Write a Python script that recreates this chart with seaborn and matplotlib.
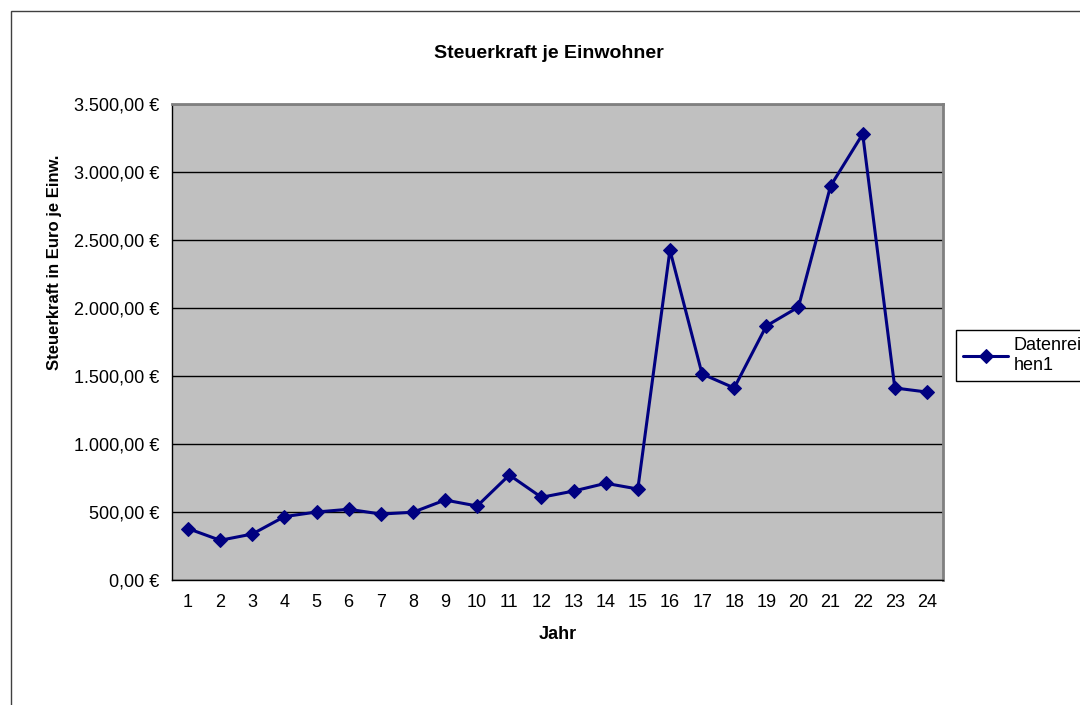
import numpy as np
import pandas as pd
import matplotlib
matplotlib.use('Agg')
import matplotlib.pyplot as plt
from matplotlib.patches import Rectangle
from matplotlib.ticker import FuncFormatter, MultipleLocator
import seaborn as sns

# Werte
jahre = list(range(1, 25))
steuerkraft = [378, 292, 338, 466, 500, 520, 485, 498, 588, 544, 772, 608,
               654, 711, 669, 2426, 1515, 1412, 1868, 2007, 2897, 3279, 1412, 1382]
serie = 'Datenrei\nhen1'

df = pd.DataFrame({'Jahr': jahre, 'Steuerkraft': steuerkraft})

sns.set_style('white')
plt.rcParams['font.family'] = ['Liberation Sans', 'DejaVu Sans']
plt.rcParams['text.color'] = 'black'
plt.rcParams['axes.labelcolor'] = 'black'
plt.rcParams['xtick.color'] = 'black'
plt.rcParams['ytick.color'] = 'black'

W, H = 1080, 705
fig = plt.figure(figsize=(W / 100, H / 100), dpi=100)
ax = fig.add_axes([172 / W, 1 - 580 / H, (943 - 172) / W, (580 - 104) / H])
ax.set_facecolor('#c0c0c0')

sns.lineplot(data=df, x='Jahr', y='Steuerkraft', ax=ax, color='#000080',
             marker='D', markersize=7.5, markeredgecolor='#000080',
             linewidth=2.2, label=serie, zorder=3)

ax.set_xlim(0.5, 24.5)
ax.set_ylim(0, 3500)
ax.yaxis.set_major_locator(MultipleLocator(500))
ax.yaxis.set_major_formatter(FuncFormatter(
    lambda v, p: f"{v:,.2f}".replace(',', 'X').replace('.', ',').replace('X', '.') + ' €'))
ax.grid(axis='y', color='black', linewidth=1)
ax.set_axisbelow(True)

ax.set_xticks(jahre)
ax.set_xticklabels([str(j) for j in jahre])
ax.set_xticks(np.arange(0.5, 25, 1), minor=True)
ax.tick_params(axis='x', which='major', length=0, pad=10, labelsize=13)
ax.tick_params(axis='x', which='minor', length=5, width=1, color='black', direction='out')
ax.tick_params(axis='y', length=5, width=1, color='black', direction='out', pad=4, labelsize=13)

for s in ['left', 'bottom']:
    ax.spines[s].set_color('black')
    ax.spines[s].set_linewidth(1)
for s in ['top', 'right']:
    ax.spines[s].set_color('#808080')
    ax.spines[s].set_linewidth(2)

ax.set_xlabel('Jahr', fontsize=13, fontweight='bold', labelpad=11)
ax.set_ylabel('Steuerkraft in Euro je Einw.', fontsize=12, fontweight='bold')
ax.yaxis.label.set_verticalalignment('center')
ax.yaxis.set_label_coords(-0.153, 0.668)

fig.text(549 / W, 1 - 54 / H, 'Steuerkraft je Einwohner', ha='center', va='center',
         fontsize=14, fontweight='bold')

leg = ax.legend(loc='upper left', bbox_to_anchor=(956 / W, 1 - 330 / H),
                bbox_transform=fig.transFigure, frameon=True, fancybox=False,
                fontsize=13, handlelength=2.5, handletextpad=0.3,
                borderpad=0.4, borderaxespad=0, labelspacing=0.2)
leg.get_frame().set_edgecolor('black')
leg.get_frame().set_linewidth(1)
leg.get_frame().set_alpha(1)

# äußerer Rahmen des Diagrammbereichs
fig.patches.append(Rectangle((11 / W, -0.1), 1.2, 1 - 11 / H + 0.1,
                             transform=fig.transFigure, fill=False,
                             edgecolor='#404040', linewidth=1, clip_on=False))

fig.savefig('out.png', dpi=100)
